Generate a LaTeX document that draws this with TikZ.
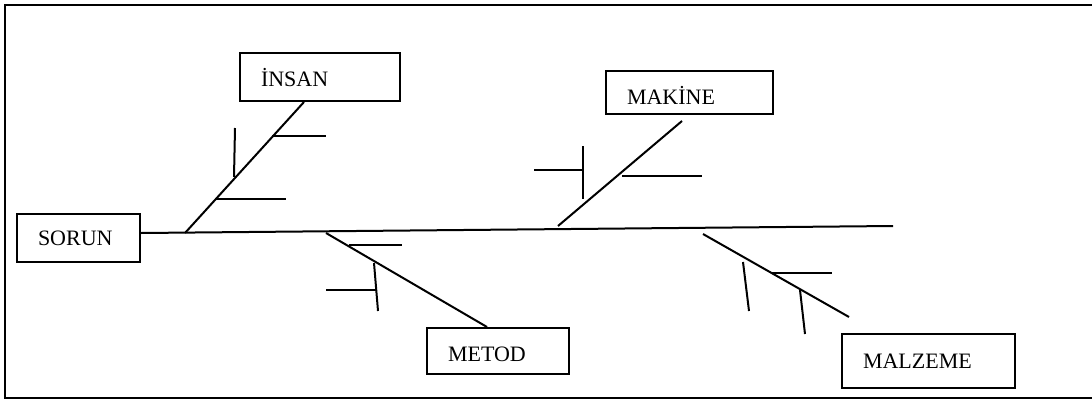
\documentclass[tikz,border=0pt]{standalone}
\usepackage{fontspec}
\setmainfont{Liberation Serif}
\begin{document}
\begin{tikzpicture}[x=1pt,y=-1pt,
  line width=2pt, line cap=butt,
  catbox/.style={draw, rectangle, inner xsep=20pt, inner ysep=0pt, align=left,
    text height=15pt, text depth=0pt,
    font=\fontsize{22}{26}\selectfont},
  bone/.style={line width=2pt},
  rib/.style={line width=2pt}]
\useasboundingbox (0,0) rectangle (1092,399);
% outer frame (open to the right)
\draw (1092,4.5) -- (5,4.5) -- (5,398) -- (1092,398);

% category boxes
\node[catbox, minimum width=123pt, minimum height=48pt, text width=81pt] (sorun) at (78.5,238) {SORUN};
\node[catbox, minimum width=160pt, minimum height=48pt, text width=118pt] (insan) at (320,77) {\raisebox{-2pt}{İNSAN}};
\node[catbox, minimum width=167pt, minimum height=43pt, text width=125pt] (makine) at (689.5,92.5) {\raisebox{-4pt}{MAKİNE}};
\node[catbox, minimum width=142pt, minimum height=46pt, text width=100pt] (metod) at (498,351) {\raisebox{-3pt}{METOD}};
\node[catbox, minimum width=173pt, minimum height=54pt, text width=131pt] (malzeme) at (928.5,361) {MALZEME};

% spine
\coordinate (head) at (893,226);
\draw ([yshift=5pt]sorun.east) -- (head);

% main bones
\coordinate (b1) at (185,233);
\coordinate (b2) at (558,226);
\coordinate (b3) at (326,233);
\coordinate (b4) at (703,234);
\coordinate (m2) at (682,121);
\coordinate (m4) at (849,317);
\draw[bone] (b1) -- (insan.south -| 304,0);
\draw[bone] (b2) -- (m2);
\draw[bone] (b3) -- (metod.north -| 487,0);
\draw[bone] (b4) -- (m4);

% ribs: İNSAN
\draw[rib] (272,136) -- (326,136);
\draw[rib] (216,199) -- (286,199);
\draw[rib] (235,128) -- (234,177);
% ribs: MAKİNE
\draw[rib] (534,170) -- (583,170);
\draw[rib] (583,146) -- (583,199);
\draw[rib] (622,176) -- (702,176);
% ribs: METOD
\draw[rib] (349,245) -- (402,245);
\draw[rib] (374,263) -- (378,311);
\draw[rib] (326,290) -- (377,290);
% ribs: MALZEME
\draw[rib] (743,262) -- (749,311);
\draw[rib] (772,273) -- (832,273);
\draw[rib] (800,290) -- (805,334);
\end{tikzpicture}
\end{document}
